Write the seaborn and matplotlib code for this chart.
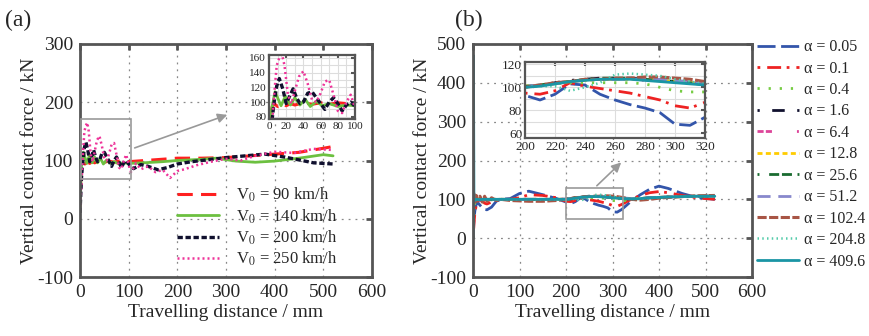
import numpy as np
import pandas as pd
import matplotlib
matplotlib.use("Agg")
import matplotlib.pyplot as plt
import seaborn as sns
from matplotlib.patches import Rectangle
from matplotlib.ticker import MultipleLocator

sns.set_style("white")
plt.rcParams['font.family'] = ['Liberation Serif', 'DejaVu Serif']
plt.rcParams['mathtext.fontset'] = 'stix'
plt.rcParams['axes.unicode_minus'] = False

# ---------------- Panel (a) data ----------------
speed_labels = ["V$_0$ = 90 km/h", "V$_0$ = 140 km/h", "V$_0$ = 200 km/h", "V$_0$ = 250 km/h"]

x90 = [0, 2, 4, 7, 10, 15, 20, 25, 30, 40, 50, 60, 70, 80, 90, 100, 150, 200, 250, 300, 350, 400, 450, 500, 520]
y90 = [20, 85, 95, 97, 94, 98, 95, 98, 96, 99, 97, 99, 97, 99, 98, 98, 101, 104, 104, 105, 108, 111, 114, 121, 124]

x140 = [0, 3, 7, 14, 19, 25, 30, 36, 42, 48, 55, 62, 70, 80, 90, 100, 130, 170, 200, 250, 280, 320, 360, 400, 450, 500, 520]
y140 = [20, 90, 114, 95, 108, 96, 106, 96, 104, 94, 101, 95, 98, 94, 96, 95, 96, 98, 100, 102, 104, 99, 97, 99, 104, 110, 108]

x200 = [0, 3, 6, 9, 12, 16, 20, 24, 28, 32, 36, 40, 45, 50, 55, 60, 65, 70, 75, 80, 85, 90, 95, 100, 110, 125, 140, 160, 180, 200, 230, 260, 300, 340, 380, 420, 450, 480, 520]
y200 = [10, 70, 100, 122, 132, 118, 98, 108, 118, 106, 98, 100, 112, 114, 106, 98, 90, 100, 106, 98, 88, 96, 100, 94, 86, 93, 90, 84, 88, 94, 98, 101, 105, 108, 111, 106, 101, 96, 94]

x250 = [0, 3, 6, 9, 12, 15, 18, 22, 26, 30, 35, 40, 45, 50, 55, 60, 65, 70, 75, 80, 85, 90, 95, 100, 105, 115, 125, 140, 155, 170, 185, 200, 215, 240, 270, 300, 330, 360, 400, 440, 480, 520]
y250 = [15, 60, 110, 150, 160, 165, 150, 110, 98, 115, 135, 142, 125, 103, 100, 112, 128, 130, 110, 88, 85, 100, 110, 92, 80, 95, 85, 90, 80, 84, 70, 82, 85, 92, 98, 103, 100, 108, 115, 113, 120, 118]

# ---------------- Panel (b) data ----------------
alpha_labels = ["α = 0.05", "α = 0.1", "α = 0.4", "α = 1.6", "α = 6.4", "α = 12.8",
                "α = 25.6", "α = 51.2", "α = 102.4", "α = 204.8", "α = 409.6"]

xb = [0, 1, 2, 4, 7, 10, 15, 20, 25, 30, 40, 50, 60, 80, 100, 120, 150, 180, 200, 210, 220, 230,
      240, 250, 260, 270, 280, 290, 300, 310, 320, 340, 360, 380, 400, 420, 450, 480, 520]

y_a005 = [0, 20, 45, 70, 88, 92, 85, 78, 74, 73, 80, 95, 100, 102, 115, 121, 112, 102, 93, 89, 94, 103,
          102, 94, 89, 85, 82, 78, 68, 67, 74, 95, 112, 126, 134, 128, 115, 105, 100]
y_a01 = [0, 10, 35, 65, 85, 95, 100, 96, 90, 88, 93, 98, 100, 100, 104, 112, 110, 104, 95, 94, 97, 104,
         101, 99, 97, 95, 92, 89, 84, 82, 87, 100, 110, 117, 120, 117, 110, 104, 100]
y_a04 = [0, 40, 70, 90, 100, 103, 98, 96, 100, 100, 99, 100, 100, 100, 100, 100, 100, 100, 100, 102, 103, 104,
         104, 104, 104, 104, 103, 100, 97, 96, 96, 98, 100, 103, 105, 106, 107, 107, 107]
y_a16 = [0, 50, 80, 95, 110, 100, 95, 100, 100, 100, 99, 100, 100, 100, 100, 100, 100, 100, 100, 101, 104, 106,
         107, 108, 108, 108, 107, 106, 105, 104, 102, 101, 102, 104, 105, 106, 107, 108, 108]
y_a64 = [0, 55, 85, 97, 108, 101, 96, 100, 101, 100, 99, 100, 100, 100, 100, 100, 100, 100, 101, 102, 104, 105,
         106, 107, 107, 107, 106, 106, 105, 104, 103, 101, 102, 104, 105, 106, 107, 108, 108]
y_a128 = [0, 60, 88, 99, 106, 102, 97, 100, 101, 100, 100, 100, 100, 100, 100, 100, 100, 100, 101, 102, 103, 105,
          106, 107, 107, 107, 107, 106, 105, 104, 103, 102, 102, 104, 105, 106, 107, 108, 109]
y_a256 = [0, 65, 90, 100, 104, 102, 98, 100, 100, 100, 100, 100, 100, 100, 100, 100, 100, 100, 101, 102, 104, 105,
          107, 108, 108, 108, 107, 106, 105, 104, 102, 101, 102, 104, 105, 106, 107, 108, 108]
y_a512 = [0, 70, 92, 100, 103, 101, 98, 100, 100, 100, 100, 100, 100, 100, 100, 100, 100, 100, 101, 102, 103, 105,
          106, 107, 107, 107, 107, 107, 106, 105, 104, 102, 102, 104, 105, 106, 107, 108, 109]
y_a1024 = [95, 110, 115, 92, 110, 95, 108, 93, 108, 95, 104, 97, 100, 97, 96, 95, 95, 97, 100, 102, 104, 105,
           107, 107, 108, 108, 109, 109, 108, 107, 105, 100, 98, 100, 103, 105, 107, 109, 110]
y_a2048 = [0, 40, 80, 98, 103, 100, 98, 100, 100, 100, 100, 100, 100, 100, 100, 100, 100, 100, 100, 101, 101, 97,
           100, 104, 111, 112, 111, 110, 107, 105, 103, 101, 101, 103, 105, 106, 107, 108, 108]
y_a4096 = [0, 470, 100, 97, 100, 100, 99, 100, 100, 100, 100, 100, 100, 100, 100, 100, 100, 100, 100, 101, 103, 105,
           106, 107, 107, 107, 106, 105, 104, 103, 102, 101, 102, 104, 105, 106, 107, 108, 108]

# ---------------- styles ----------------
SPINE = "#555555"
a_series = [(x90, y90), (x140, y140), (x200, y200), (x250, y250)]
a_styles = [
    dict(color="#ff2020", lw=2.2, linestyle=(0, (5, 2.7))),
    dict(color="#6cc040", lw=2.0, linestyle="-"),
    dict(color="#10102e", lw=2.4, linestyle=(0, (1.6, 0.8))),
    dict(color="#ee3399", lw=1.8, linestyle=(0, (0.8, 1.2))),
]
b_series = [y_a005, y_a01, y_a04, y_a16, y_a64, y_a128, y_a256, y_a512, y_a1024, y_a2048, y_a4096]
b_styles = [
    dict(color="#3355aa", lw=2.0, linestyle=(0, (6.5, 2))),
    dict(color="#ee2222", lw=2.0, linestyle=(0, (1, 2.5, 5, 2))),
    dict(color="#77cc44", lw=2.0, linestyle=(0, (0.8, 3.2))),
    dict(color="#10102e", lw=2.0, linestyle=(0, (0.8, 4.5, 4.5, 4.5))),
    dict(color="#dd4499", lw=2.0, linestyle=(0, (2.2, 0.8, 2.2, 9, 0.7, 1.5))),
    dict(color="#ffcc00", lw=2.0, linestyle=(0, (1.8, 1.2))),
    dict(color="#1a6b30", lw=2.0, linestyle=(0, (0.7, 3.5, 3.6, 1, 3.6, 2))),
    dict(color="#8888cc", lw=2.0, linestyle=(0, (4.7, 2.8))),
    dict(color="#a85545", lw=2.2, linestyle=(0, (3, 0.8))),
    dict(color="#55ccaa", lw=1.8, linestyle=(0, (0.6, 1.3))),
    dict(color="#1a95a5", lw=2.0, linestyle="-"),
]

W, H = 869, 336
fig = plt.figure(figsize=(W / 100, H / 100), dpi=100)

def frac(l, t, r, b):
    return [l / W, (H - b) / H, (r - l) / W, (b - t) / H]

axA = fig.add_axes(frac(80, 44, 372, 277))
axB = fig.add_axes(frac(473, 44, 752, 277))
insA = fig.add_axes(frac(269, 55, 355, 119))
insB = fig.add_axes(frac(525, 62, 705, 138))

def style_main(ax):
    for s in ax.spines.values():
        s.set_color(SPINE)
        s.set_linewidth(2.0)
    ax.tick_params(direction="in", length=4, width=2, color=SPINE, labelsize=14,
                   top=True, right=True, pad=5)
    ax.grid(True, linestyle=(0, (1.5, 4)), color="#888888", lw=0.9)
    ax.set_xlim(0, 600)
    ax.set_xticks(range(0, 601, 100))
    ax.set_xlabel("Travelling distance / mm", fontsize=14, labelpad=2)
    ax.set_ylabel("Vertical contact force / kN", fontsize=14, labelpad=-1)

def style_inset(ax, fs):
    for s in ax.spines.values():
        s.set_color(SPINE)
        s.set_linewidth(1.6)
    ax.tick_params(which="both", direction="in", length=3, width=1.5, color=SPINE,
                   labelsize=fs, top=True, right=True, pad=2)
    ax.tick_params(which="minor", length=0)
    ax.grid(True, which="both", color="#dddddd", lw=0.8)
    ax.set_facecolor("white")

# ---- panel (a) ----
for (xs, ys), st, lab in zip(a_series, a_styles, speed_labels):
    sns.lineplot(x=xs, y=ys, ax=axA, label=lab, sort=False, estimator=None, **st)
    msk = np.array(xs) <= 100
    sns.lineplot(x=np.array(xs)[msk], y=np.array(ys)[msk], ax=insA, sort=False,
                 estimator=None, legend=False, **st)
style_main(axA)
axA.set_ylim(-100, 300)
axA.set_yticks(range(-100, 301, 100))
axA.add_patch(Rectangle((2, 68), 103, 104, fill=False, ec="#999999", lw=1.2, zorder=5))
axA.annotate("", xy=(308, 180), xytext=(107, 120),
             arrowprops=dict(arrowstyle="-|>", color="#999999", lw=1.2, mutation_scale=14))
axA.legend(loc="upper left", bbox_to_anchor=(0.31, 0.42), frameon=False, fontsize=12,
           handlelength=2.5, handletextpad=1.0, labelspacing=0.18, borderaxespad=0)

style_inset(insA, 8)
insA.set_xlim(0, 100)
insA.set_ylim(77, 164)
insA.set_xticks(range(0, 101, 20))
insA.set_yticks(range(80, 161, 20))
insA.xaxis.set_minor_locator(MultipleLocator(10))
insA.yaxis.set_minor_locator(MultipleLocator(10))

# ---- panel (b) ----
for ys, st, lab in zip(b_series, b_styles, alpha_labels):
    sns.lineplot(x=xb, y=ys, ax=axB, label=lab, sort=False, estimator=None, **st)
    sns.lineplot(x=xb, y=ys, ax=insB, sort=False, estimator=None, legend=False, **st)
style_main(axB)
axB.set_ylim(-100, 500)
axB.set_yticks(range(-100, 501, 100))
axB.add_patch(Rectangle((200, 50), 122, 80, fill=False, ec="#999999", lw=1.2, zorder=5))
axB.annotate("", xy=(323, 200), xytext=(262, 130),
             arrowprops=dict(arrowstyle="-|>", color="#999999", lw=1.2, mutation_scale=14))
hb, lb = axB.get_legend_handles_labels()
axB.get_legend().remove()
fig.legend(hb, lb, loc="upper left", bbox_to_anchor=(754 / W, 1 - 36 / H), frameon=False,
           fontsize=11.5, handlelength=2.6, handletextpad=0.3, labelspacing=0.34,
           borderaxespad=0, borderpad=0.2)

style_inset(insB, 9.5)
insB.set_xlim(200, 320)
insB.set_ylim(56, 122)
insB.set_xticks(range(200, 321, 20))
insB.set_yticks(range(60, 121, 20))
insB.yaxis.set_minor_locator(MultipleLocator(10))

fig.text(5 / W, 1 - 20 / H, "(a)", fontsize=17, va="center", ha="left")
fig.text(455 / W, 1 - 20 / H, "(b)", fontsize=17, va="center", ha="left")

fig.savefig("out.png", dpi=100)
